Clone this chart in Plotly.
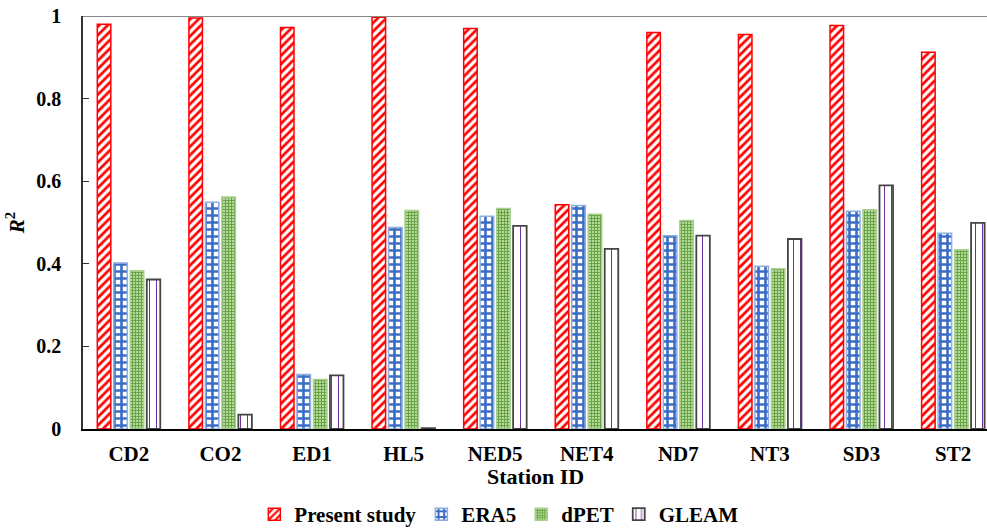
import plotly.graph_objects as go

stations = ["CD2", "CO2", "ED1", "HL5", "NED5", "NET4", "ND7", "NT3", "SD3", "ST2"]
present_study = [0.980, 0.995, 0.972, 0.997, 0.970, 0.543, 0.960, 0.955, 0.977, 0.912]
era5 = [0.402, 0.549, 0.132, 0.488, 0.515, 0.541, 0.468, 0.394, 0.527, 0.474]
dpet = [0.383, 0.562, 0.120, 0.529, 0.534, 0.520, 0.505, 0.388, 0.531, 0.434]
gleam = [0.362, 0.035, 0.130, 0.002, 0.492, 0.436, 0.468, 0.460, 0.590, 0.499]

y_ticks = [0, 0.2, 0.4, 0.6, 0.8, 1]
y_tick_text = ["0", "0.2", "0.4", "0.6", "0.8", "1"]

FONT = "Liberation Serif"

fig = go.Figure()
fig.add_trace(go.Bar(
    name="<b>Present study</b>", x=stations, y=present_study,
    marker=dict(color="white", line=dict(color="#ff0000", width=1.5),
                pattern=dict(shape="/", fgcolor="#ff0000", fgopacity=1, bgcolor="white", size=6, solidity=0.45)),
))
fig.add_trace(go.Bar(
    name="<b>ERA5</b>", x=stations, y=era5,
    marker=dict(color="white", line=dict(color="#8eaee0", width=1.5),
                pattern=dict(shape="+", fgcolor="#3a6cc6", fgopacity=1, bgcolor="white", size=7, solidity=0.6)),
))
fig.add_trace(go.Bar(
    name="<b>dPET</b>", x=stations, y=dpet,
    marker=dict(color="white", line=dict(color="#a9d08e", width=1.5),
                pattern=dict(shape="+", fgcolor="#5f9e3a", fgopacity=1, bgcolor="#b5d99c", size=3, solidity=0.5)),
))
fig.add_trace(go.Bar(
    name="<b>GLEAM</b>", x=stations, y=gleam,
    marker=dict(color="white", line=dict(color="#444444", width=1.8),
                pattern=dict(shape="|", fgcolor="#7030a0", fgopacity=1, bgcolor="white", size=7, solidity=0.15)),
))

fig.add_shape(type="line", xref="paper", yref="y", x0=0, x1=1, y0=1, y1=1,
              line=dict(color="#888888", width=2))

fig.add_annotation(text="<b>Station ID</b>", xref="paper", yref="paper",
                   x=0.5, y=-0.115, xanchor="center", yanchor="middle", showarrow=False,
                   font=dict(family=FONT, size=22, color="black"))

fig.update_layout(
    width=987, height=528,
    margin=dict(l=83, r=0, t=16, b=99, autoexpand=False),
    paper_bgcolor="white", plot_bgcolor="white",
    barmode="group", bargap=0.28, bargroupgap=0.18,
    font=dict(family=FONT, size=18, color="black"),
    showlegend=True,
    legend=dict(orientation="h", x=0.46, xanchor="center", y=-0.207, yanchor="middle",
                font=dict(family=FONT, size=21, color="black"), itemwidth=30,
                bgcolor="rgba(0,0,0,0)"),
    xaxis=dict(
        range=[-0.5, 9.37],
        showline=True, linecolor="black", linewidth=1.5,
        ticks="", showgrid=False, zeroline=False,
        tickfont=dict(family=FONT, size=21, color="black", weight="bold"),
        ticklabelstandoff=5,
    ),
    yaxis=dict(
        range=[0, 1],
        showline=True, linecolor="#333333", linewidth=1.5,
        ticks="inside", ticklen=6, tickcolor="#333333",
        tickvals=y_ticks, ticktext=y_tick_text,
        showgrid=False, zeroline=False,
        tickfont=dict(family=FONT, size=20, color="black", weight="bold"),
        ticklabelstandoff=16,
        title=dict(text="<b><i>R</i><sup>2</sup></b>", font=dict(family=FONT, size=21, color="black"), standoff=6),
    ),
)

fig.write_html("out.html")
